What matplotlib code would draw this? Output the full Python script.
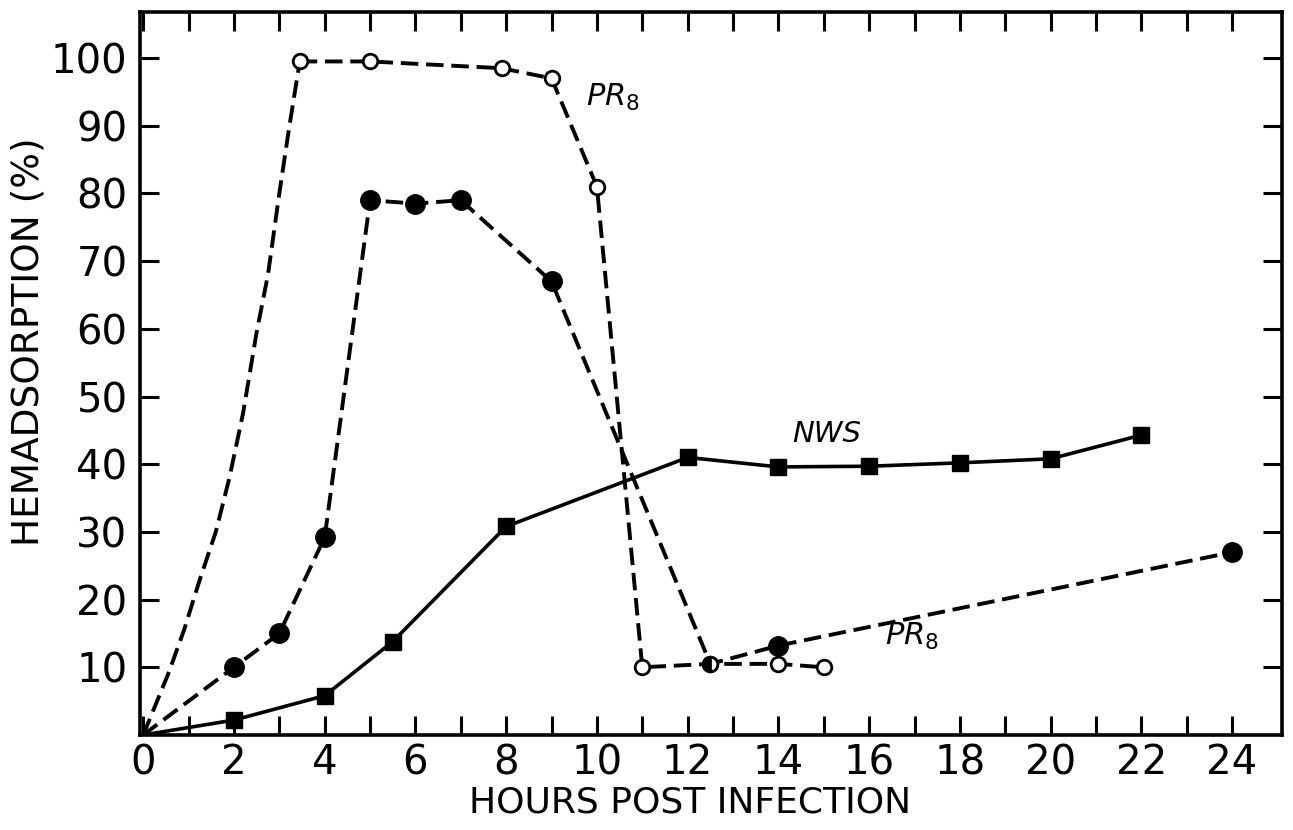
import numpy as np
import matplotlib
matplotlib.use('Agg')
import matplotlib.pyplot as plt

pr8_open_lead_hours = [0, 0.55, 0.9, 1.25, 1.6, 1.9, 2.2, 2.5, 2.75, 3.0, 3.2, 3.45]
pr8_open_lead_vals = [0, 9, 15.5, 23, 30, 38, 47.5, 59.5, 68, 80, 89, 99.5]
pr8_open_hours = [3.45, 5, 7.9, 9, 10, 11, 12.5, 14, 15]
pr8_open_vals = [99.5, 99.5, 98.5, 97, 81, 10, 10.5, 10.5, 10]

# PR8 (filled circles)
pr8_fill_hours = [0, 2, 3, 4, 5, 6, 7, 9, 12.5, 14, 24]
pr8_fill_vals = [0, 10, 15, 29.2, 79, 78.5, 79, 67, 10.5, 13.2, 27]

# NWS (filled squares)
nws_hours = [0, 2, 4, 5.5, 8, 12, 14, 16, 18, 20, 22]
nws_vals = [0, 2.2, 5.8, 13.8, 30.8, 41, 39.6, 39.7, 40.2, 40.8, 44.3]

x_ticks = list(range(0, 25, 2))
y_ticks = list(range(10, 101, 10))

plt.rcParams['font.family'] = ['DejaVu Sans']

fig = plt.figure(figsize=(12.93, 8.30), dpi=100)
ax = fig.add_axes([0.1083, 0.1145, 0.8832, 0.871])

dash = (4.5, 2.0)

# open-circle PR8
ax.plot(pr8_open_lead_hours, pr8_open_lead_vals, color='black', lw=2.8,
        linestyle=(0, dash), solid_capstyle='butt')
ax.plot(pr8_open_hours, pr8_open_vals, color='black', lw=2.8,
        linestyle=(0, dash), marker='o', ms=10.5, mfc='white', mec='black',
        mew=2.0, zorder=4)

# filled-circle PR8 (the point shared at 12.5 h is drawn half filled)
shared = pr8_fill_hours.index(12.5)
keep = [i for i in range(1, len(pr8_fill_hours)) if i != shared]
ax.plot(pr8_fill_hours, pr8_fill_vals, color='black', lw=2.8,
        linestyle=(0, dash), marker='o', ms=14, mfc='black', mec='black',
        markevery=keep, zorder=3)
ax.plot([pr8_open_hours[6]], [pr8_open_vals[6]], linestyle='none', marker='o',
        ms=10.5, fillstyle='left', mfc='black', mfcalt='white', mec='black',
        mew=2.0, zorder=5)

# NWS
ax.plot(nws_hours, nws_vals, color='black', lw=2.6, marker='s', ms=11,
        mfc='black', mec='black', markevery=list(range(1, len(nws_hours))),
        zorder=3)

# labels on the curves
ax.text(9.75, 94.2, r'$\mathit{PR}_{\mathit{8}}$', fontsize=22, va='center', ha='left')
ax.text(16.35, 14.6, r'$\mathit{PR}_{\mathit{8}}$', fontsize=22, va='center', ha='left')
ax.text(14.3, 44.5, 'NWS', fontsize=21, style='italic', va='center', ha='left')

ax.set_xlim(-0.07, 25.1)
ax.set_ylim(0, 106.8)

ax.set_xticks(x_ticks)
ax.set_xticks(np.arange(1, 25, 2), minor=True)
ax.set_xticklabels([str(t) for t in x_ticks], fontsize=29)
ax.set_yticks(y_ticks)
ax.set_yticklabels([str(t) for t in y_ticks], fontsize=29)

ax.tick_params(axis='x', which='both', direction='in', top=True, bottom=True,
               length=14, width=2.2, pad=6)
ax.tick_params(axis='y', which='both', direction='in', left=True, right=True,
               length=14, width=2.2, pad=9)

for s in ax.spines.values():
    s.set_linewidth(2.6)

ax.set_xlabel('HOURS POST INFECTION', fontsize=26, va='center')
ax.xaxis.set_label_coords(0.4816, -0.094)
ax.set_ylabel('HEMADSORPTION (%)', fontsize=27, va='center')
ax.yaxis.set_label_coords(-0.098, 0.544)

fig.savefig('out.png', dpi=100)
